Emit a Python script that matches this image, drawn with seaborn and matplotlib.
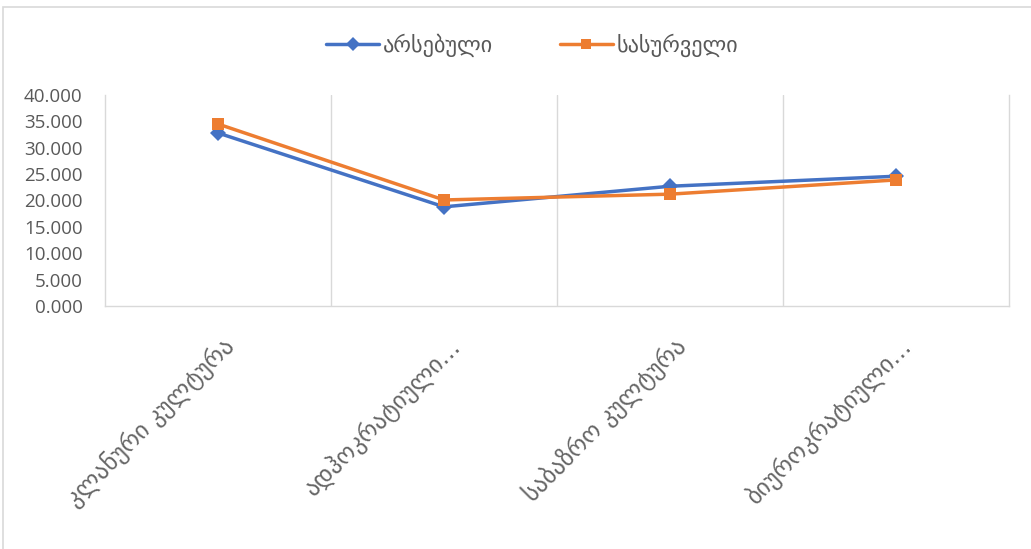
import pandas as pd
import seaborn as sns
import matplotlib.pyplot as plt
import matplotlib.transforms as mtransforms
from matplotlib.patches import Rectangle
from matplotlib.ticker import FormatStrFormatter, FixedLocator

# data
categories = ['კლანური კულტურა', 'ადჰოკრატიული...', 'საბაზრო კულტურა', 'ბიუროკრატიული...']
existing = [32.8, 18.8, 22.7, 24.6]
desired = [34.5, 20.1, 21.2, 23.9]
series_names = ['არსებული', 'სასურველი']

df = pd.DataFrame({
    'category': categories * 2,
    'value': existing + desired,
    'series': [series_names[0]] * 4 + [series_names[1]] * 4,
})

sns.set_style('white')
plt.rcParams['font.family'] = ['DejaVu Sans']

fig = plt.figure(figsize=(10.31, 5.49), dpi=100)
ax = fig.add_axes([0.1018, 0.4426, 0.8769, 0.3844])

palette = {series_names[0]: '#4472C4', series_names[1]: '#ED7D31'}
markers = {series_names[0]: 'D', series_names[1]: 's'}
sns.lineplot(data=df, x='category', y='value', hue='series', style='series',
             palette=palette, markers=markers, dashes=False, sort=False,
             linewidth=2.5, markersize=8, markeredgewidth=0, ax=ax)

ax.set_xlim(-0.5, 3.5)
ax.set_ylim(0, 40)
ax.set_yticks(range(0, 41, 5))
ax.yaxis.set_major_formatter(FormatStrFormatter('%.3f'))
ax.set_xlabel('')
ax.set_ylabel('')

# vertical gridlines on category boundaries
ax.xaxis.set_minor_locator(FixedLocator([0.5, 1.5, 2.5]))
ax.grid(axis='x', which='minor', color='#D9D9D9', linewidth=1)
ax.grid(axis='y', visible=False)
ax.tick_params(which='both', length=0)
ax.tick_params(axis='y', labelsize=13.5, labelcolor='#595959', pad=16)
ax.tick_params(axis='x', labelsize=17.5, labelcolor='#666666', pad=26)
for lbl in ax.get_yticklabels():
    lbl.set_family(['Open Sans', 'DejaVu Sans'])
shift = mtransforms.ScaledTranslation(12 / 100, 0, fig.dpi_scale_trans)
for lbl in ax.get_xticklabels():
    lbl.set_rotation(45)
    lbl.set_ha('right')
    lbl.set_va('center')
    lbl.set_rotation_mode('anchor')
    lbl.set_transform(lbl.get_transform() + shift)

for side in ['left', 'bottom', 'right']:
    ax.spines[side].set_color('#D9D9D9')
    ax.spines[side].set_linewidth(1)
ax.spines['top'].set_visible(False)

handles, labels = ax.get_legend_handles_labels()
for h in handles:
    h.set_markersize(7)
ax.legend(handles, labels, loc='center', bbox_to_anchor=(0.516, 0.918),
          bbox_transform=fig.transFigure, ncol=2, frameon=False,
          fontsize=16, labelcolor='#595959', handlelength=2.4, columnspacing=3.0,
          handletextpad=0.15)

# chart border
fig.patches.append(Rectangle((0.003, -0.01), 1.2, 0.997, transform=fig.transFigure,
                             fill=False, edgecolor='#D9D9D9', linewidth=1.2))

fig.savefig('out.png', dpi=100)
